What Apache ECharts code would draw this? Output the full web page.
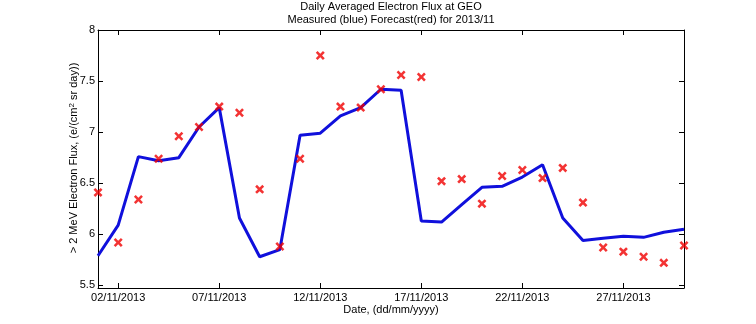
<!DOCTYPE html>
<html><head><meta charset="utf-8">
<script src="https://cdn.jsdelivr.net/npm/echarts@6/dist/echarts.min.js"></script>
<style>html,body{margin:0;padding:0;background:#fff}#c{width:756px;height:324px}</style>
</head><body><div id="c"></div>
<script>
const days = [1,2,3,4,5,6,7,8,9,10,11,12,13,14,15,16,17,18,19,20,21,22,23,24,25,26,27,28,29,30];
const measured = [5.79,6.09,6.76,6.72,6.75,7.05,7.24,6.16,5.78,5.85,6.97,6.99,7.16,7.24,7.42,7.41,6.13,6.12,6.29,6.46,6.47,6.56,6.68,6.16,5.94,5.96,5.98,5.97,6.02,6.05];
const forecast = [6.41,5.92,6.34,6.74,6.96,7.05,7.25,7.19,6.44,5.88,6.74,7.75,7.25,7.24,7.42,7.56,7.54,6.52,6.54,6.30,6.57,6.63,6.55,6.65,6.31,5.87,5.83,5.78,5.72,5.89];
const xTickDays = [2,7,12,17,22,27];
const xTickLabels = ['02/11/2013','07/11/2013','12/11/2013','17/11/2013','22/11/2013','27/11/2013'];
const yTicks = [5.5,6,6.5,7,7.5,8];
const yTickLabels = ['5.5','6','6.5','7','7.5','8'];

const font = 'Liberation Sans, Arial, sans-serif';
const chart = echarts.init(document.getElementById('c'), null, {renderer:'canvas'});
const crossPath = 'path://M0,2L2,0L5,3L8,0L10,2L7,5L10,8L8,10L5,7L2,10L0,8L3,5Z';
const tickLen = 5;
function xAxisCfg(pos, showLabel){
  return {type:'value', position:pos, min:1, max:30,
    axisLine:{show:true, onZero:false, lineStyle:{color:'#000', width:1}},
    axisTick:{show:true, inside:true, length:tickLen, customValues:xTickDays, lineStyle:{color:'#000'}},
    axisLabel:{show:showLabel, customValues:xTickDays, color:'#000', fontFamily:font, fontSize:11, margin:4,
      formatter:function(v){ const i = xTickDays.indexOf(Math.round(v)); return i>=0 ? xTickLabels[i] : ''; }},
    splitLine:{show:false}};
}
function yAxisCfg(pos, showLabel){
  return {type:'value', position:pos, min:5.474, max:8,
    axisLine:{show:true, onZero:false, lineStyle:{color:'#000', width:1}},
    axisTick:{show:true, inside:true, length:tickLen, customValues:yTicks, lineStyle:{color:'#000'}},
    axisLabel:{show:showLabel, customValues:yTicks, color:'#000', fontFamily:font, fontSize:11, margin:3,
      formatter:function(v){ const i = yTicks.findIndex(t=>Math.abs(t-v)<1e-6); return i>=0 ? yTickLabels[i] : ''; }},
    splitLine:{show:false}};
}
chart.setOption({
  animation:false,
  backgroundColor:'#fff',
  grid:{left:98, right:72, top:30, bottom:36, show:false},
  xAxis:[xAxisCfg('bottom', true), xAxisCfg('top', false)],
  yAxis:[yAxisCfg('left', true), yAxisCfg('right', false)],
  graphic:[
    {type:'text', x:391, y:7, style:{text:'Daily Averaged Electron Flux at GEO', font:'11px '+font, fill:'#000', textAlign:'center', textVerticalAlign:'middle'}},
    {type:'text', x:391, y:19.5, style:{text:'Measured (blue) Forecast(red) for 2013/11', font:'11px '+font, fill:'#000', textAlign:'center', textVerticalAlign:'middle'}},
    {type:'text', x:391, y:310, style:{text:'Date, (dd/mm/yyyy)', font:'11px '+font, fill:'#000', textAlign:'center', textVerticalAlign:'middle'}},
    {type:'text', x:74, y:158, rotation:Math.PI/2,
      style:{text:'> 2 MeV Electron Flux, (e/(cm{sup|2} sr day))', font:'11px '+font, fill:'#000', textAlign:'center', textVerticalAlign:'middle',
        rich:{sup:{fontSize:8, fontFamily:font, fill:'#000', verticalAlign:'top', padding:[0,0,5,0]}}}}
  ],
  series:[
    {type:'line', data:days.map((d,i)=>[d, measured[i]]), symbol:'none', lineStyle:{color:'#1010dc', width:3}, z:2},
    {type:'scatter', data:days.map((d,i)=>[d, forecast[i]]), symbol:crossPath, symbolSize:9, itemStyle:{color:'#f00000'}, z:3}
  ]
});
</script></body></html>
